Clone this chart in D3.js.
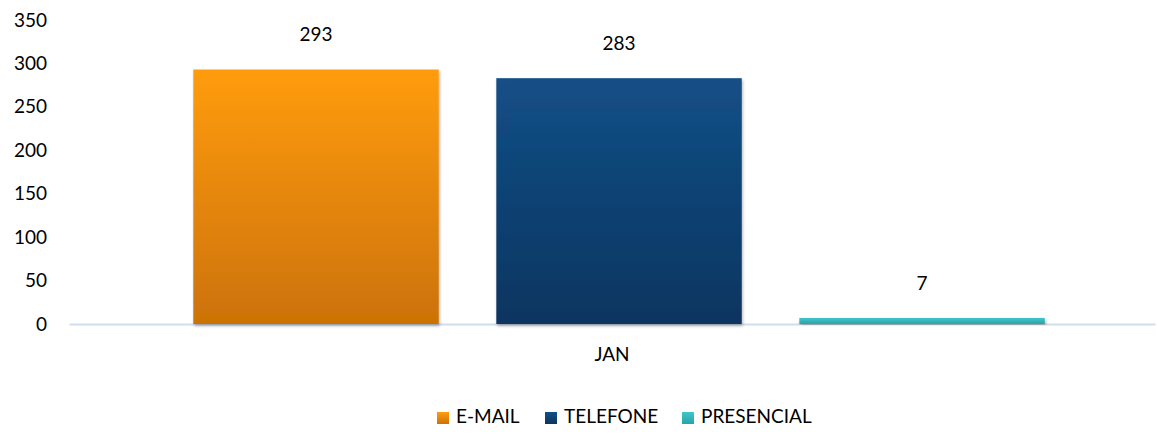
<!DOCTYPE html>
<html><head><meta charset="utf-8">
<script src="https://cdn.jsdelivr.net/npm/d3@7"></script>
<style>body{margin:0;background:#fff;}svg{display:block;font-family:Lato,"Open Sans",sans-serif;}</style>
</head><body><svg id="c" width="1157" height="434"></svg>
<script>
const categories = ["JAN"];
const seriesNames = ["E-MAIL", "TELEFONE", "PRESENCIAL"];
const values = [293, 283, 7];
const yTicks = [0, 50, 100, 150, 200, 250, 300, 350];
const colorsTop = ["#FF9C0F", "#134F86", "#40C6CA"];
const colorsBottom = ["#CC7206", "#0B3560", "#2AA3A7"];

const svg = d3.select("#c");
const W = 1157;
const FS = 19;
const FF = "Lato,'Open Sans',sans-serif";
const y = d3.scaleLinear().domain([0, 350]).range([324, 20]);
const x0 = d3.scaleBand().domain(categories).range([69, 1155]);
const x1 = d3.scaleBand().domain(seriesNames).range([0, x0.bandwidth()]).paddingInner(0.19).paddingOuter(0.387).align(0.53);

const defs = svg.append("defs");
seriesNames.forEach((s, i) => {
  const g = defs.append("linearGradient").attr("id", "g" + i).attr("x1", 0).attr("y1", 0).attr("x2", 0).attr("y2", 1);
  g.append("stop").attr("offset", "0%").attr("stop-color", colorsTop[i]);
  g.append("stop").attr("offset", "100%").attr("stop-color", colorsBottom[i]);
});
const f = defs.append("filter").attr("id", "sh").attr("x", "-5%").attr("y", "-5%").attr("width", "110%").attr("height", "115%");
f.append("feDropShadow").attr("dx", 1).attr("dy", 2).attr("stdDeviation", 1.5).attr("flood-color", "#000").attr("flood-opacity", 0.3);

const yAxis = d3.axisLeft(y).tickValues(yTicks).tickSize(0).tickPadding(0);
const ya = svg.append("g").attr("transform", "translate(47,0)").call(yAxis);
ya.select(".domain").remove();
ya.selectAll("text").attr("font-size", FS).attr("fill", "#000").attr("font-family", FF);

const xAxis = d3.axisBottom(x0).tickSize(0).tickPadding(24);
const xa = svg.append("g").attr("transform", `translate(0,${y(0)})`).call(xAxis);
xa.select(".domain").attr("stroke", "#D0DEF0").attr("stroke-width", 2);
xa.selectAll("text").attr("font-size", FS).attr("fill", "#000").attr("font-family", FF);

const g = svg.append("g").attr("transform", `translate(${x0("JAN")},0)`);
g.selectAll("rect").data(values).join("rect")
  .attr("x", (d, i) => x1(seriesNames[i]))
  .attr("y", d => y(d))
  .attr("width", x1.bandwidth())
  .attr("height", d => y(0) - y(d))
  .attr("fill", (d, i) => `url(#g${i})`)
  .attr("filter", "url(#sh)");

g.selectAll("text.lbl").data(values).join("text").attr("class", "lbl")
  .attr("x", (d, i) => x1(seriesNames[i]) + x1.bandwidth() / 2)
  .attr("y", d => y(d) - 33)
  .attr("text-anchor", "middle").attr("dominant-baseline", "middle")
  .attr("font-size", FS).attr("fill", "#000")
  .text(d => d);

const legX = [437, 545, 682];
const lg = svg.append("g");
seriesNames.forEach((s, i) => {
  lg.append("rect").attr("x", legX[i]).attr("y", 412).attr("width", 12).attr("height", 12).attr("fill", `url(#g${i})`);
  lg.append("text").attr("x", legX[i] + 19).attr("y", 418).attr("dominant-baseline", "middle")
    .attr("font-size", FS).attr("fill", "#000").text(s);
});
</script></body></html>
